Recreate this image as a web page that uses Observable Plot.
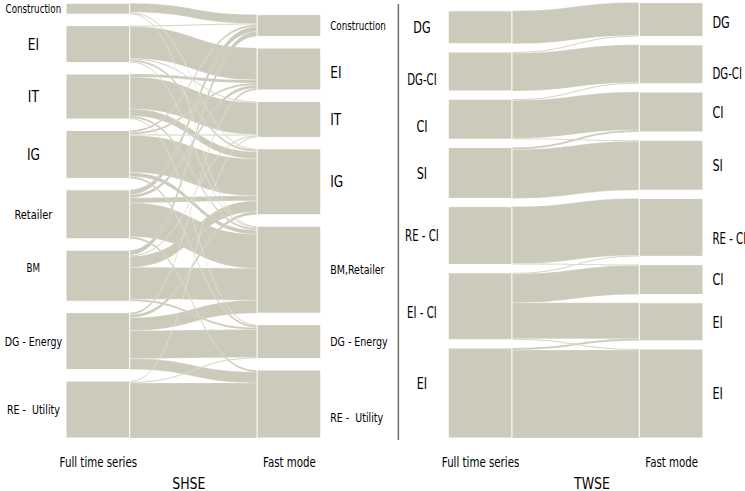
<!DOCTYPE html>
<html>
<head>
<meta charset="utf-8">
<script src="https://cdn.jsdelivr.net/npm/d3@7"></script>
<script src="https://cdn.jsdelivr.net/npm/@observablehq/plot@0.6"></script>
<style>
  body { margin: 0; background: #fff; }
  #chart { width: 745px; height: 491px; }
</style>
</head>
<body>
<div id="chart"></div>
<script>
// ---------- data ----------
// SHSE: full-time-series clusters (left) and fast-mode clusters (right)
const shseLeft = ["Construction", "EI", "IT", "IG", "Retailer", "BM", "DG - Energy", "RE -  Utility"];
const shseRight = ["Construction", "EI", "IT", "IG", "BM,Retailer", "DG - Energy", "RE -  Utility"];
// [left index, right index, number of stocks]
const shseFlows = [
  [0, 0, 9], [0, 3, 1], [0, 4, 1],
  [1, 0, 1], [1, 1, 32], [1, 2, 1], [1, 3, 2], [1, 4, 1],
  [2, 1, 3], [2, 2, 32], [2, 3, 7], [2, 4, 2], [2, 5, 1],
  [3, 0, 2], [3, 1, 2], [3, 2, 1], [3, 3, 37], [3, 4, 4], [3, 5, 2],
  [4, 0, 5], [4, 1, 3], [4, 3, 5], [4, 4, 34], [4, 6, 2],
  [5, 0, 5], [5, 2, 1], [5, 3, 11], [5, 4, 32], [5, 5, 2],
  [6, 1, 2], [6, 3, 3], [6, 4, 13], [6, 5, 28], [6, 6, 11],
  [7, 2, 1], [7, 5, 1], [7, 6, 55]
];

// TWSE
const twseLeft = ["DG", "DG-CI", "CI", "SI", "RE - CI", "EI - CI", "EI"];
const twseRight = ["DG", "DG-CI", "CI", "SI", "RE - CI", "CI", "EI", "EI"];
const twseFlows = [
  [0, 0, 33],
  [1, 0, 1], [1, 1, 38],
  [2, 1, 1], [2, 2, 38], [2, 3, 1],
  [3, 2, 2], [3, 3, 49],
  [4, 4, 57], [4, 5, 1],
  [5, 4, 1], [5, 5, 29], [5, 6, 36], [5, 7, 1],
  [6, 6, 2], [6, 7, 88]
];

const columnLabels = ["Full time series", "Fast mode"];
const panelTitles = ["SHSE", "TWSE"];

// ---------- layout (styles) ----------
const FILL = "#cccbbb";
const panels = [
  {left: shseLeft, right: shseRight, flows: shseFlows, title: panelTitles[0], x0: 0, gap: 11.4,
   leftLabelDx: -0.52, titleDx: 1.92, squeeze: 0.76,
   size: l => ({EI: 16, IT: 16, IG: 16, BM: 11.5, Retailer: 13, Construction: 11.5})[l] || 12.5,
   nudge: {"left:5": -8, "right:1": 3, "right:6": 13}},
  {left: twseLeft, right: twseRight, flows: twseFlows, title: panelTitles[1], x0: 6, gap: 8.2,
   leftLabelDx: -0.42, titleDx: 2.25, squeeze: 0.68,
   size: l => l.length <= 2 ? 16.5 : 15,
   nudge: {"left:1": 8, "left:2": 7, "left:5": 6, "left:6": -10, "right:0": 3, "right:1": 9, "right:4": 11}}
];

function buildPanel(p) {
  const {left, right, flows, gap, x0} = p;
  const lv = left.map((_, i) => d3.sum(flows, f => f[0] === i ? f[2] : 0));
  const rv = right.map((_, j) => d3.sum(flows, f => f[1] === j ? f[2] : 0));
  const stack = vals => {
    let top = d3.sum(vals) + gap * (vals.length - 1);
    return vals.map(v => { const s = {y1: top - v, y2: top}; top -= v + gap; return s; });
  };
  const L = stack(lv), R = stack(rv);
  const mk = (side, label, i, box, x1, lx) => ({
    label, side, x1, x2: x1 + 1, lx, fs: p.size(label), sq: p.squeeze, ...box,
    ly: (box.y1 + box.y2) / 2 - (p.nudge[side + ":" + i] || 0)
  });
  const nodes = [
    ...left.map((label, i) => mk("left", label, i, L[i], x0, x0 + p.leftLabelDx)),
    ...right.map((label, j) => mk("right", label, j, R[j], x0 + 3, x0 + 4.14))
  ];
  const sOff = L.map(d => d.y2), tOff = R.map(d => d.y2);
  const ribbons = flows.map((f, k) => ({id: p.title + "-" + k, s: f[0], t: f[1], v: f[2]}));
  ribbons.slice().sort((a, b) => a.s - b.s || a.t - b.t).forEach(r => {
    r.sy2 = sOff[r.s]; r.sy1 = r.sy2 - r.v; sOff[r.s] = r.sy1;
  });
  ribbons.slice().sort((a, b) => a.t - b.t || a.s - b.s).forEach(r => {
    r.ty2 = tOff[r.t]; r.ty1 = r.ty2 - r.v; tOff[r.t] = r.ty1;
  });
  const points = ribbons
    .slice().sort((a, b) => b.v - a.v)
    .flatMap(r => [
      {id: r.id, x: x0 + 1, y1: r.sy1, y2: r.sy2},
      {id: r.id, x: x0 + 3, y1: r.ty1, y2: r.ty2}
    ]);
  const cols = columnLabels.map((label, i) => ({label, x: x0 + (i === 0 ? 0.5 : 3.5)}));
  const title = {label: p.title, x: x0 + p.titleDx};
  return {nodes, points, cols, title};
}

const built = panels.map(buildPanel);
const nodes = built.flatMap(b => b.nodes);
const points = built.flatMap(b => b.points);
const cols = built.flatMap(b => b.cols);
const titles = built.map(b => b.title);

const chart = Plot.plot({
  width: 745,
  height: 491,
  marginLeft: 66,
  marginRight: 42,
  marginTop: 2,
  marginBottom: 53,
  x: {domain: [0, 10], axis: null},
  y: {domain: [0, 436], axis: null},
  style: {fontFamily: "DejaVu Sans", background: "white", color: "black"},
  marks: [
    Plot.area(points, {x1: "x", y1: "y1", y2: "y2", z: "id", curve: "bump-x", fill: FILL, stroke: "white", strokeWidth: 0.5, strokeOpacity: 0.35}),
    Plot.rect(nodes, {x1: "x1", x2: "x2", y1: "y1", y2: "y2", fill: FILL, stroke: "white", strokeWidth: 1}),
    Plot.ruleX([5.21], {y1: -2, y2: 434, stroke: "#6f6f6f", strokeWidth: 1.5}),
    Plot.text(nodes.filter(d => d.side === "left"), {x: "lx", y: "ly", text: "label", fontSize: "fs", textAnchor: "middle", fill: "black"}),
    Plot.text(nodes.filter(d => d.side === "right"), {x: "lx", y: "ly", text: "label", fontSize: "fs", textAnchor: "start", fill: "black"}),
    Plot.text(cols, {x: "x", y: () => -24, text: "label", fontSize: 13.5, textAnchor: "middle", fill: "black"}),
    Plot.text(titles, {x: "x", y: () => -45, text: "label", fontSize: 16.5, textAnchor: "middle", fill: "black"})
  ]
});

// horizontally condense the lettering, as in the reference figure
const textGroups = chart.querySelectorAll('g[aria-label="text"]');
const nodeSets = [nodes.filter(d => d.side === "left"), nodes.filter(d => d.side === "right")];
textGroups.forEach((g, gi) => {
  g.querySelectorAll("text").forEach((el, i) => {
    const sq = gi < 2 ? nodeSets[gi][i].sq : 0.76;
    const t = el.getAttribute("transform");
    if (t) el.setAttribute("transform", t + ` scale(${sq},1)`);
  });
});

document.getElementById("chart").appendChild(chart);
</script>
</body>
</html>
